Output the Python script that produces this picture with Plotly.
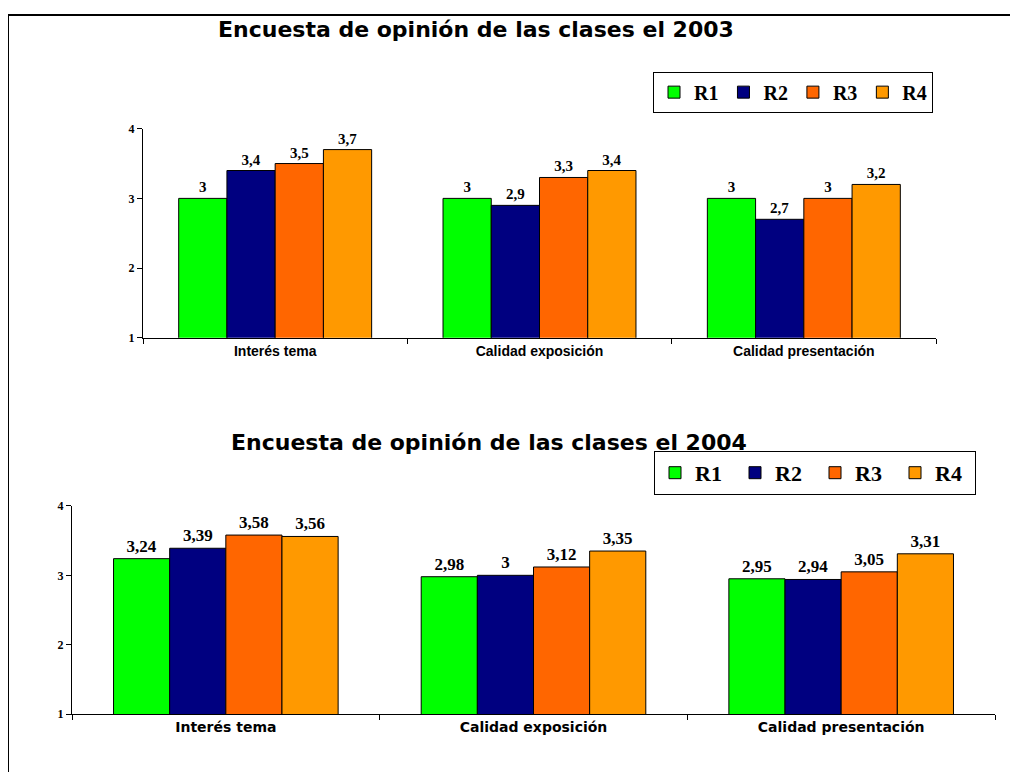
import plotly.graph_objects as go

# page body has an 8px margin, so the figure is 16px smaller than the window
W, H = 1002, 764

categories = ["Interés tema", "Calidad exposición", "Calidad presentación"]
series = ["R1", "R2", "R3", "R4"]
colors = ["#00FF00", "#000080", "#FF6600", "#FF9900"]

values_2003 = {
    "R1": [3, 3, 3],
    "R2": [3.4, 2.9, 2.7],
    "R3": [3.5, 3.3, 3],
    "R4": [3.7, 3.4, 3.2],
}
values_2004 = {
    "R1": [3.24, 2.98, 2.95],
    "R2": [3.39, 3, 2.94],
    "R3": [3.58, 3.12, 3.05],
    "R4": [3.56, 3.35, 3.31],
}
y_ticks = [1, 2, 3, 4]


def px_x(x):
    return (x - 8) / W


def px_y(y):
    return 1 - ((y - 15.4) / 0.981) / H


fig = go.Figure()

# chart 1 (2003)
for name, col in zip(series, colors):
    fig.add_trace(go.Bar(x=categories, y=values_2003[name], name=name,
                         marker=dict(color=col, line=dict(color="black", width=1)),
                         texttemplate="%{y}", textposition="outside", cliponaxis=False,
                         textfont=dict(family="Liberation Serif", size=15, color="black",
                                       weight="bold"),
                         xaxis="x", yaxis="y", legend="legend"))

# chart 2 (2004)
for name, col in zip(series, colors):
    fig.add_trace(go.Bar(x=categories, y=values_2004[name], name=name,
                         marker=dict(color=col, line=dict(color="black", width=1)),
                         texttemplate="%{y}", textposition="outside", cliponaxis=False,
                         textfont=dict(family="Liberation Serif", size=17, color="black",
                                       weight="bold"),
                         xaxis="x2", yaxis="y2", legend="legend2"))

xcommon = dict(showline=True, linecolor="black", linewidth=1, ticks="outside",
               tickson="boundaries", ticklen=5, tickcolor="black", showgrid=False)
ycommon = dict(range=[1, 4], tickvals=y_ticks, showline=True, linecolor="black",
               linewidth=1, ticks="outside", ticklen=5, tickcolor="black",
               showgrid=False, zeroline=False,
               tickfont=dict(family="Liberation Serif", size=12, color="black", weight="bold"))

legcommon = dict(orientation="h", bgcolor="white", bordercolor="black", borderwidth=1,
                 xanchor="left", yanchor="top", itemwidth=30, traceorder="normal")

fig.update_layout(
    width=W, height=H,
    margin=dict(l=0, r=0, t=0, b=0),
    paper_bgcolor="white", plot_bgcolor="white",
    separators=", ",
    barmode="group", bargap=0.27, bargroupgap=0,
    xaxis=dict(domain=[px_x(143), px_x(936)], anchor="y",
               tickfont=dict(family="Liberation Sans", size=14, color="black", weight="bold"),
               **xcommon),
    yaxis=dict(domain=[px_y(338), px_y(129)], anchor="x", **ycommon),
    xaxis2=dict(domain=[px_x(72), px_x(995)], anchor="y2",
                tickfont=dict(family="DejaVu Sans", size=14, color="black", weight="bold"),
                **xcommon),
    yaxis2=dict(domain=[px_y(714), px_y(506)], anchor="x2", **ycommon),
    legend=dict(x=px_x(653), y=px_y(72),
                font=dict(family="Liberation Serif", size=20, color="black", weight="bold"),
                **legcommon),
    legend2=dict(x=px_x(654), y=px_y(451), entrywidth=35,
                 font=dict(family="Liberation Serif", size=22, color="black", weight="bold"),
                 **legcommon),
    showlegend=True,
)

title_font = dict(family="DejaVu Sans", size=22, color="black", weight="bold")
fig.add_annotation(text="Encuesta de opinión de las clases el 2003", xref="paper", yref="paper",
                   x=px_x(476), y=px_y(30), yanchor="middle", showarrow=False, font=title_font)
fig.add_annotation(text="Encuesta de opinión de las clases el 2004", xref="paper", yref="paper",
                   x=px_x(489), y=px_y(443), yanchor="middle", showarrow=False, font=title_font)

# outer frame
fig.add_shape(type="rect", xref="paper", yref="paper",
              x0=px_x(8), y0=1, x1=1.05, y1=-0.05,
              line=dict(color="black", width=2), layer="below")

fig.write_html("out.html")
